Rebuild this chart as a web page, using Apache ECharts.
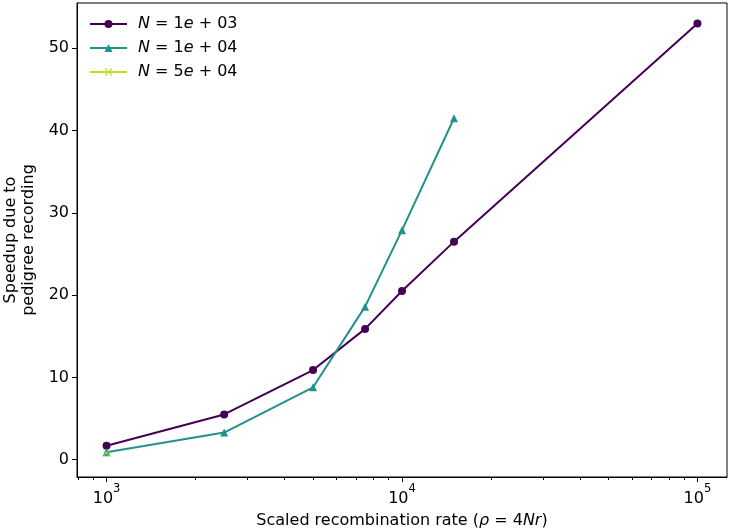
<!DOCTYPE html>
<html>
<head>
<meta charset="utf-8">
<script src="https://cdn.jsdelivr.net/npm/echarts@6/dist/echarts.min.js"></script>
<style>html,body{margin:0;padding:0;background:#fff;}#c{width:731px;height:531px;}</style>
</head>
<body>
<div id="c"></div>
<script>
// Data
const rho1 = [1000, 2500, 5000, 7500, 10000, 15000, 100000];
const speedup1 = [1.7, 5.5, 10.9, 15.9, 20.5, 26.5, 53.0];
const rho2 = [1000, 2500, 5000, 7500, 10000, 15000];
const speedup2 = [0.9, 3.3, 8.8, 18.6, 27.9, 41.5];
const rho3 = [1000];
const speedup3 = [0.8];
const seriesNames = ['N = 1e + 03', 'N = 1e + 04', 'N = 5e + 04'];
const xMajorTicks = [1000, 10000, 100000];
const xMajorExp = ['3', '4', '5'];
const xMinorTicks = [800, 900, 2000, 3000, 4000, 5000, 6000, 7000, 8000, 9000,
  20000, 30000, 40000, 50000, 60000, 70000, 80000, 90000];
const yTicks = [0, 10, 20, 30, 40, 50];

const colors = ['#440154', '#21918c', '#bddf26'];
const font = 'DejaVu Sans';
const FS = 16;
const pairs = (xs, ys) => xs.map((x, i) => [x, ys[i]]);
const xSym = 'path://M1,0 L5,4 L9,0 L10,1 L6,5 L10,9 L9,10 L5,6 L1,10 L0,9 L4,5 L0,1Z';
const italic = {fontFamily: font, fontStyle: 'italic', fontSize: FS, color: '#000'};

const chart = echarts.init(document.getElementById('c'), null, {renderer: 'canvas'});
const legendFmt = (name) => {
  const m = name.match(/^N = (\d)e \+ (\d+)$/);
  return '{i|N} = ' + m[1] + '{i|e} + ' + m[2];
};
chart.setOption({
  animation: false,
  backgroundColor: '#fff',
  textStyle: {fontFamily: font},
  grid: {left: 77, right: 4, top: 3, bottom: 54, show: true, borderColor: '#000', borderWidth: 1,
    containLabel: false, outerBoundsMode: 'none'},
  legend: {
    left: 84, top: 11, orient: 'vertical', itemGap: 8, itemWidth: 37, itemHeight: 10,
    data: seriesNames,
    formatter: legendFmt,
    textStyle: {fontFamily: font, fontSize: FS, color: '#000', padding: [0, 0, 0, 6],
      rich: {i: italic}}
  },
  xAxis: [{
    type: 'log', logBase: 10, min: 794.3, max: 125893,
    name: 'Scaled recombination rate ({i|ρ} = 4{i|Nr})',
    nameLocation: 'middle', nameGap: 36,
    nameTextStyle: {fontFamily: font, fontSize: FS, color: '#000', rich: {i: italic}},
    axisLine: {show: true, onZero: false, lineStyle: {color: '#000', width: 1}},
    axisTick: {show: true, inside: false, length: 5, lineStyle: {color: '#000'}, customValues: xMajorTicks},
    axisLabel: {show: true, margin: 6, color: '#000', fontSize: FS, fontFamily: font,
      customValues: xMajorTicks,
      formatter: (v) => { const i = xMajorTicks.findIndex(t => Math.abs(t - v) / t < 1e-6); return i >= 0 ? '{b|10}{s|' + xMajorExp[i] + '}' : ''; },
      rich: {
        b: {fontFamily: font, fontSize: FS, color: '#000', lineHeight: 24, verticalAlign: 'bottom'},
        s: {fontFamily: font, fontSize: 11.5, color: '#000', lineHeight: 24, verticalAlign: 'top'}
      }},
    splitLine: {show: false}, minorTick: {show: false}
  }, {
    type: 'log', logBase: 10, min: 794.3, max: 125893, position: 'bottom',
    axisLine: {show: false, onZero: false},
    axisTick: {show: true, inside: false, length: 3, lineStyle: {color: '#000'}, customValues: xMinorTicks},
    axisLabel: {show: false},
    splitLine: {show: false}
  }],
  yAxis: {
    type: 'value', min: -2.1, max: 55.5,
    name: 'Speedup due to\npedigree recording',
    nameLocation: 'middle', nameGap: 37, nameRotate: 90,
    nameTextStyle: {fontFamily: font, fontSize: FS, color: '#000', lineHeight: 18, align: 'center'},
    axisLine: {show: true, onZero: false, lineStyle: {color: '#000', width: 1}},
    axisTick: {show: true, inside: false, length: 5, lineStyle: {color: '#000'}, customValues: yTicks},
    axisLabel: {show: true, margin: 8, color: '#000', fontSize: FS, fontFamily: font, customValues: yTicks},
    splitLine: {show: false}
  },
  series: [{
    name: seriesNames[0], type: 'line', data: pairs(rho1, speedup1),
    symbol: 'circle', symbolSize: 8, color: colors[0],
    lineStyle: {width: 2, color: colors[0]}, itemStyle: {color: colors[0]}
  }, {
    name: seriesNames[1], type: 'line', data: pairs(rho2, speedup2),
    symbol: 'triangle', symbolSize: 8, color: colors[1],
    lineStyle: {width: 2, color: colors[1]}, itemStyle: {color: colors[1]}
  }, {
    name: seriesNames[2], type: 'line', data: pairs(rho3, speedup3),
    symbol: xSym, symbolSize: 7, color: colors[2],
    lineStyle: {width: 2, color: colors[2]}, itemStyle: {color: colors[2]}
  }]
});
</script>
</body>
</html>
